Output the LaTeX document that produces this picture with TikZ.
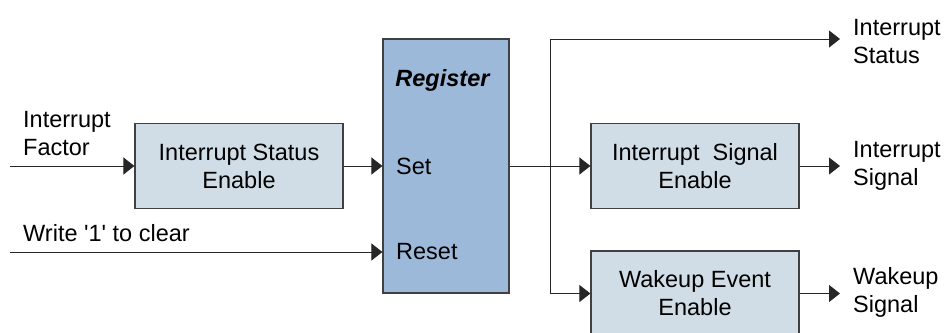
\documentclass[tikz,border=0pt]{standalone}
\usepackage{fontspec}
\setmainfont{Liberation Sans}
\usetikzlibrary{arrows.meta}
\definecolor{boxfill}{HTML}{D0DDE6}
\definecolor{regfill}{HTML}{9DB9D9}
\definecolor{edge}{HTML}{404040}
\tikzset{
  blk/.style={draw=edge, line width=1.2pt, fill=boxfill, minimum width=208pt,
    minimum height=85pt, inner sep=0pt, align=center},
  regbox/.style={draw=edge, line width=1.2pt, fill=regfill, minimum width=126pt,
    minimum height=254pt, inner sep=0pt},
  lbl/.style={inner sep=0pt, align=left, anchor=west},
  wire/.style={draw=black!85, line width=1pt, -{Triangle[length=11pt,width=17pt]}},
  plain/.style={draw=black!85, line width=1pt}
}
\begin{document}
\begin{tikzpicture}[x=1pt, y=-1pt, font=\fontsize{23.5}{28}\selectfont]
\useasboundingbox (0,0) rectangle (945,332);
\clip (0,0) rectangle (945,332);

% blocks
\node[blk] (ise) at (239,166) {Interrupt Status\\Enable};
\node[regbox] (reg) at (446,166) {};
\node[blk] (isg) at (695,166) {Interrupt~~Signal\\Enable};
\node[blk] (wke) at (695,293.5) {Wakeup Event\\Enable};

% register contents
\node[inner sep=0pt] (regtitle) at (443,80) {\textbf{\textit{Register}}};
\node[lbl] (set) at (396,166) {Set};
\node[lbl] (reset) at (396,252) {Reset};

% inputs
\coordinate (in1) at (10,166);
\coordinate (in2) at (10,252);
\node[lbl] (lfactor) at (23,134) {Interrupt\\Factor};
\node[lbl] (lclear) at (23,233) {Write \textquotesingle 1\textquotesingle{} to clear};
\draw[wire] (in1) -- (ise.west);
\draw[wire] (ise.east) -- (reg.west |- ise.east);
\draw[wire] (in2) -- (reg.west |- in2);

% register output and branches
\coordinate (split) at (550,166);
\coordinate (ostat) at (840,39);
\coordinate (osig) at (840,166);
\coordinate (owake) at (840,293.5);
\draw[wire] (reg.east |- split) -- (isg.west);
\draw[plain] (split |- ostat) -- (split |- wke.west);
\draw[wire] (split |- ostat) -- (ostat);
\draw[wire] (split |- wke.west) -- (wke.west);
\draw[wire] (isg.east) -- (osig);
\draw[wire] (wke.east) -- (owake);

% outputs
\node[lbl] (lstat) at (853,41.5) {Interrupt\\Status};
\node[lbl] (lsig) at (853,165.5) {Interrupt\\Signal};
\node[lbl] (lwake) at (853,292) {Wakeup\\Signal};
\end{tikzpicture}
\end{document}
